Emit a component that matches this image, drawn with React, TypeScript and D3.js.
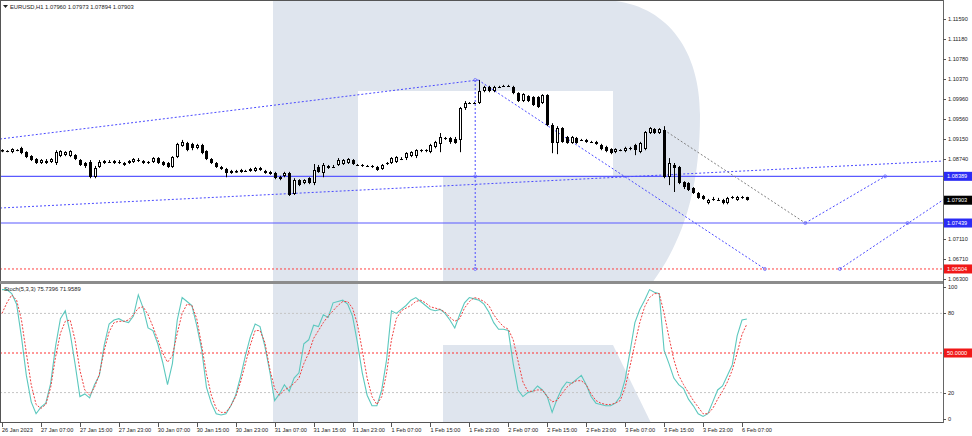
import React from 'react';
import * as d3 from 'd3';

const W = 972;
const H = 436;

// [open, high, low, close] hourly bars from 26 Jan 23:00
const ohlc: [number, number, number, number][] = [
  [1.0890,1.0894,1.0888,1.0892],[1.0890,1.0892,1.0888,1.0890],[1.0888,1.0896,1.0886,1.0894],[1.0892,1.0894,1.0890,1.0892],
  [1.0896,1.0899,1.0884,1.0886],[1.0888,1.0890,1.0876,1.0878],[1.0880,1.0882,1.0870,1.0872],[1.0874,1.0876,1.0864,1.0866],
  [1.0866,1.0874,1.0864,1.0872],[1.0867,1.0874,1.0864,1.0871],[1.0868,1.0876,1.0866,1.0874],[1.0866,1.0892,1.0862,1.0888],
  [1.0880,1.0892,1.0878,1.0890],[1.0882,1.0890,1.0880,1.0888],[1.0880,1.0892,1.0878,1.0890],[1.0882,1.0884,1.0872,1.0874],
  [1.0872,1.0874,1.0860,1.0862],[1.0866,1.0868,1.0856,1.0860],[1.0868,1.0872,1.0835,1.0837],[1.0837,1.0860,1.0835,1.0856],
  [1.0858,1.0872,1.0856,1.0868],[1.0866,1.0872,1.0864,1.0870],[1.0868,1.0872,1.0866,1.0868],[1.0870,1.0872,1.0864,1.0866],
  [1.0869,1.0872,1.0864,1.0866],[1.0862,1.0868,1.0860,1.0866],[1.0866,1.0872,1.0864,1.0870],[1.0868,1.0876,1.0866,1.0874],
  [1.0872,1.0876,1.0868,1.0872],[1.0870,1.0872,1.0864,1.0866],[1.0868,1.0870,1.0864,1.0868],[1.0868,1.0878,1.0866,1.0876],
  [1.0876,1.0878,1.0864,1.0866],[1.0868,1.0870,1.0860,1.0862],[1.0866,1.0868,1.0856,1.0858],[1.0858,1.0880,1.0856,1.0878],
  [1.0878,1.0907,1.0876,1.0905],[1.0901,1.0913,1.0899,1.0909],[1.0907,1.0909,1.0890,1.0892],[1.0905,1.0907,1.0892,1.0896],
  [1.0896,1.0905,1.0894,1.0903],[1.0903,1.0905,1.0884,1.0886],[1.0890,1.0892,1.0872,1.0874],[1.0874,1.0876,1.0864,1.0866],
  [1.0866,1.0868,1.0856,1.0858],[1.0858,1.0860,1.0852,1.0854],[1.0854,1.0856,1.0837,1.0846],[1.0846,1.0852,1.0844,1.0850],
  [1.0848,1.0852,1.0846,1.0849],[1.0848,1.0854,1.0846,1.0852],[1.0850,1.0852,1.0848,1.0850],[1.0854,1.0856,1.0848,1.0850],
  [1.0850,1.0858,1.0848,1.0856],[1.0852,1.0858,1.0850,1.0856],[1.0850,1.0852,1.0844,1.0846],[1.0848,1.0850,1.0842,1.0844],
  [1.0846,1.0848,1.0833,1.0835],[1.0833,1.0840,1.0831,1.0837],[1.0840,1.0848,1.0837,1.0846],[1.0846,1.0848,1.0799,1.0801],
  [1.0803,1.0835,1.0801,1.0831],[1.0831,1.0833,1.0819,1.0821],[1.0825,1.0833,1.0823,1.0831],[1.0835,1.0837,1.0823,1.0825],
  [1.0825,1.0864,1.0821,1.0852],[1.0858,1.0862,1.0846,1.0848],[1.0846,1.0866,1.0837,1.0862],[1.0860,1.0862,1.0854,1.0856],
  [1.0858,1.0862,1.0856,1.0858],[1.0862,1.0876,1.0860,1.0872],[1.0864,1.0874,1.0862,1.0872],[1.0866,1.0876,1.0864,1.0874],
  [1.0872,1.0874,1.0862,1.0864],[1.0862,1.0864,1.0860,1.0862],[1.0862,1.0864,1.0858,1.0860],[1.0860,1.0862,1.0858,1.0860],
  [1.0860,1.0862,1.0856,1.0858],[1.0858,1.0860,1.0850,1.0852],[1.0854,1.0864,1.0852,1.0862],[1.0866,1.0868,1.0862,1.0866],
  [1.0866,1.0878,1.0864,1.0876],[1.0868,1.0880,1.0866,1.0878],[1.0874,1.0878,1.0872,1.0874],[1.0876,1.0888,1.0872,1.0886],
  [1.0880,1.0890,1.0878,1.0888],[1.0880,1.0894,1.0876,1.0892],[1.0892,1.0894,1.0888,1.0892],[1.0892,1.0894,1.0888,1.0892],
  [1.0888,1.0905,1.0886,1.0903],[1.0899,1.0911,1.0896,1.0909],[1.0905,1.0927,1.0888,1.0919],[1.0917,1.0919,1.0913,1.0917],
  [1.0917,1.0919,1.0905,1.0909],[1.0915,1.0919,1.0905,1.0907],[1.0913,1.0980,1.0888,1.0978],[1.0978,1.0992,1.0974,1.0988],
  [1.0988,1.0990,1.0986,1.0988],[1.0988,1.0990,1.0986,1.0988],[1.0988,1.1035,1.0986,1.1012],[1.1012,1.1023,1.1010,1.1021],
  [1.1021,1.1023,1.1010,1.1012],[1.1012,1.1023,1.1010,1.1021],[1.1021,1.1023,1.1019,1.1021],[1.1023,1.1025,1.1021,1.1023],
  [1.1023,1.1025,1.1021,1.1023],[1.1021,1.1023,1.1006,1.1008],[1.1008,1.1010,1.0990,1.0992],[1.0992,1.1008,1.0990,1.1006],
  [1.1002,1.1004,1.0990,1.0992],[1.1000,1.1002,1.0982,1.0984],[1.1000,1.1002,1.0978,1.0980],[1.0988,1.1006,1.0986,1.1004],
  [1.1004,1.1006,1.0941,1.0943],[1.0943,1.0947,1.0886,1.0907],[1.0907,1.0941,1.0884,1.0937],[1.0937,1.0939,1.0907,1.0909],
  [1.0919,1.0921,1.0905,1.0907],[1.0907,1.0921,1.0905,1.0919],[1.0917,1.0919,1.0905,1.0907],[1.0913,1.0915,1.0911,1.0913],
  [1.0913,1.0915,1.0907,1.0909],[1.0909,1.0911,1.0907,1.0909],[1.0909,1.0911,1.0903,1.0905],[1.0903,1.0905,1.0892,1.0894],
  [1.0899,1.0901,1.0888,1.0890],[1.0894,1.0896,1.0884,1.0886],[1.0888,1.0896,1.0886,1.0894],[1.0892,1.0894,1.0890,1.0892],
  [1.0890,1.0899,1.0888,1.0896],[1.0896,1.0899,1.0892,1.0896],[1.0903,1.0905,1.0882,1.0892],[1.0888,1.0909,1.0886,1.0907],
  [1.0894,1.0931,1.0892,1.0929],[1.0927,1.0939,1.0925,1.0937],[1.0935,1.0937,1.0925,1.0927],[1.0927,1.0937,1.0925,1.0935],
  [1.0933,1.0941,1.0835,1.0837],[1.0837,1.0876,1.0821,1.0866],[1.0862,1.0866,1.0807,1.0856],[1.0858,1.0860,1.0823,1.0825],
  [1.0827,1.0829,1.0813,1.0817],[1.0825,1.0827,1.0809,1.0811],[1.0815,1.0817,1.0803,1.0805],[1.0805,1.0807,1.0793,1.0795],
  [1.0799,1.0801,1.0791,1.0793],[1.0785,1.0793,1.0782,1.0791],[1.0793,1.0797,1.0789,1.0793],[1.0791,1.0795,1.0789,1.0791],
  [1.0791,1.0793,1.0782,1.0785],[1.0785,1.0797,1.0782,1.0795],[1.0797,1.0799,1.0793,1.0797],[1.0791,1.0799,1.0789,1.0797],
  [1.0797,1.0799,1.0793,1.0797],[1.07960,1.07973,1.07894,1.07903],
];

const stochK = [
  98,98,95,87,62,33,13,4,9,12,27,55,76,82,65,42,17,19,16,26,
  33,56,72,75,76,74,73,78,94,84,69,67,57,43,26,42,75,92,89,86,
  71,53,24,12,4,3,4,10,18,32,48,62,72,70,55,36,14,19,26,21,
  31,35,57,60,71,70,79,77,88,89,90,87,78,58,35,18,10,10,22,45,
  82,80,83,86,90,92,89,86,83,82,83,80,75,69,79,88,92,91,90,87,
  81,73,68,68,67,42,22,17,20,21,25,22,17,5,15,23,28,27,30,33,
  26,17,12,11,10,10,12,17,30,51,73,83,90,98,96,95,52,42,31,26,
  23,15,10,4,2,4,13,22,25,33,41,63,75,75.74,
];

const stochD = [
  80,88,94,90,75,50,26,11,8,11,24,47,65,74,75,60,37,22,18,24,
  34,52,66,73,74,74,75,79,84,85,79,70,60,50,43,48,65,80,87,86,
  76,56,34,18,8,5,5,10,17,28,42,56,67,67,58,38,23,18,22,24,
  27,31,42,50,61,67,73,78,82,86,89,89,84,72,52,31,17,11,17,35,
  60,76,82,84,86,89,90,88,85,84,83,81,77,74,76,84,89,92,91,89,
  86,79,74,70,68,60,44,28,21,21,22,22,17,13,14,19,24,27,29,29,
  26,19,14,12,11,11,12,14,24,40,57,73,85,92,95,95,80,62,45,33,
  26,20,14,9,4,4,8,15,21,28,37,50,64,71.96,
];

const priceTicks = [1.1159, 1.1118, 1.1078, 1.1037, 1.0996, 1.0956, 1.0915, 1.0874, 1.0833, 1.0792, 1.0752, 1.0711, 1.0671, 1.0630];
const stochTicks = [100, 80, 50, 20, 0];
const timeTickBars = [0, 8, 16, 24, 32, 40, 48, 56, 64, 72, 80, 88, 96, 104, 112, 120, 128, 136, 144, 152];
const timeTickLabels = ['26 Jan 2023', '27 Jan 07:00', '27 Jan 15:00', '27 Jan 23:00', '30 Jan 07:00', '30 Jan 15:00', '30 Jan 23:00', '31 Jan 07:00', '31 Jan 15:00', '31 Jan 23:00', '1 Feb 07:00', '1 Feb 15:00', '1 Feb 23:00', '2 Feb 07:00', '2 Feb 15:00', '2 Feb 23:00', '3 Feb 07:00', '3 Feb 15:00', '3 Feb 23:00', '6 Feb 07:00'];

const blueLevels = [1.08389, 1.07439];
const redLevel = 1.06504;
const lastPrice = 1.07903;

// trend lines: [barIndex, price] pairs
const blueTrends: [number, number][][] = [
  [[-0.4, 1.09148], [97.8, 1.10349]],
  [[97.8, 1.10349], [156.7, 1.06504]],
  [[-0.4, 1.07744], [193.3, 1.08700]],
  [[97.2, 1.10349], [97.2, 1.06504]],
  [[165.0, 1.07439], [181.4, 1.08389]],
  [[172.1, 1.06504], [193.3, 1.07910]],
];
const grayTrends: [number, number][][] = [
  [[136, 1.09331], [165.0, 1.07439]],
];
const markers: [number, number][] = [[97.2, 1.10349], [97.2, 1.08389], [97.2, 1.06504], [156.7, 1.06504], [165.0, 1.07439], [181.4, 1.08389], [172.1, 1.06504], [186.0, 1.07439]];

const FONT = "'Liberation Sans', Arial, sans-serif";
const WM = '#dfe5ee';

export default function App() {
  const x = d3.scaleLinear().domain([0, 152]).range([2, 742]);
  const y = d3.scaleLinear().domain([1.063, 1.1159]).range([279, 19]);
  const ys = d3.scaleLinear().domain([0, 100]).range([419, 287]);
  const AX = 943;

  const kPath = d3.line<number>().x((_, i) => x(i)).y((d) => ys(d))(stochK) || '';
  const dPath = d3.line<number>().x((_, i) => x(i)).y((d) => ys(d))(stochD) || '';
  const seg = d3.line<[number, number]>().x((d) => x(d[0])).y((d) => y(d[1]));

  const boxed = [...blueLevels, lastPrice, redLevel];
  const visibleTicks = priceTicks.filter((p) => boxed.every((b) => Math.abs(y(p) - y(b)) > 7));

  const label = (yy: number, txt: string, bg: string) => (
    <g key={txt}>
      <rect x={AX + 1} y={yy - 4.5} width={28} height={9} fill={bg} />
      <text x={AX + 4} y={yy + 2} fontSize={5.6} fill="#fff">{txt}</text>
    </g>
  );

  return (
    <svg width={W} height={H} style={{ position: 'fixed', left: 0, top: 0, background: '#fff' }} fontFamily={FONT}>
      <defs>
        <clipPath id="mainClip"><rect x={1} y={1} width={AX - 1} height={280} /></clipPath>
        <clipPath id="stochClip"><rect x={1} y={284} width={AX - 1} height={139} /></clipPath>
      </defs>
      <rect width={W} height={H} fill="#fff" />

      {/* main panel */}
      <g clipPath="url(#mainClip)">
        <rect x={273} y={0} width={85} height={290} fill={WM} />
        <path d="M358,0 H600 C662,0 700,45 700,115 C700,195 680,245 652,283 L443,283 L443,177 L613,177 L613,91 L358,91 Z" fill={WM} />
        {blueLevels.map((v) => (
          <line key={v} x1={0} x2={AX} y1={y(v)} y2={y(v)} stroke="#5a5aff" strokeWidth={1.2} />
        ))}
        <line x1={0} x2={AX} y1={y(redLevel)} y2={y(redLevel)} stroke="#ff4040" strokeWidth={1} strokeDasharray="2 2" />
        {blueTrends.map((t, i) => (
          <path key={i} d={seg(t) || ''} stroke="#4b4bff" strokeWidth={1} strokeDasharray="2 2" fill="none" />
        ))}
        {grayTrends.map((t, i) => (
          <path key={i} d={seg(t) || ''} stroke="#808080" strokeWidth={1} strokeDasharray="2 2" fill="none" />
        ))}
        {markers.map((m, i) => (
          <circle key={i} cx={x(m[0])} cy={y(m[1])} r={1.5} fill="none" stroke="#6a6aff" strokeWidth={0.8} />
        ))}
        {ohlc.map((c, i) => {
          const [o, h, l, cl] = c;
          const cx = Math.round(x(i)) + 0.5;
          const top = Math.round(y(Math.max(o, cl)));
          const bot = Math.round(y(Math.min(o, cl)));
          const bull = cl > o;
          return (
            <g key={i}>
              <line x1={cx} x2={cx} y1={y(h)} y2={y(l)} stroke="#000" strokeWidth={1} />
              {bull ? (
                <rect x={cx - 1} y={top + 0.5} width={2} height={Math.max(bot - top - 1, 0.5)} fill="#fff" stroke="#000" strokeWidth={1} />
              ) : (
                <rect x={cx - 1.5} y={top} width={3} height={Math.max(bot - top, 1)} fill="#000" />
              )}
            </g>
          );
        })}
      </g>

      {/* stochastic panel */}
      <g clipPath="url(#stochClip)">
        <rect x={273} y={280} width={85} height={150} fill={WM} />
        <path d="M443,345 L613,345 L652,425 L443,425 Z" fill={WM} />
        {[80, 20].map((v) => (
          <line key={v} x1={0} x2={AX} y1={ys(v)} y2={ys(v)} stroke="#c4c4c4" strokeWidth={1} strokeDasharray="2 2" />
        ))}
        <line x1={0} x2={AX} y1={ys(50)} y2={ys(50)} stroke="#ff3030" strokeWidth={1} strokeDasharray="2 2" />
        <path d={kPath} stroke="#5cc8be" strokeWidth={1.1} fill="none" />
        <path d={dPath} stroke="#f04040" strokeWidth={1} strokeDasharray="2 1.5" fill="none" />
      </g>

      {/* frames */}
      <line x1={0.5} x2={0.5} y1={0} y2={423} stroke="#555" />
      <line x1={0} x2={AX} y1={0.5} y2={0.5} stroke="#555" />
      <rect x={0} y={281} width={AX + 1} height={3} fill="#8c8c8c" />
      <line x1={0} x2={AX} y1={422.5} y2={422.5} stroke="#555" />
      <line x1={AX + 0.5} x2={AX + 0.5} y1={0} y2={423} stroke="#666" />

      {/* price axis */}
      {priceTicks.map((p) => (
        <line key={'t' + p} x1={AX} x2={AX + 3} y1={Math.round(y(p)) + 0.5} y2={Math.round(y(p)) + 0.5} stroke="#555" />
      ))}
      {visibleTicks.map((p) => (
        <text key={p} x={AX + 5} y={y(p) + 2} fontSize={5.6} fill="#222">{p.toFixed(5)}</text>
      ))}
      {label(y(blueLevels[0]), blueLevels[0].toFixed(5), '#2b2bf5')}
      {label(y(lastPrice), lastPrice.toFixed(5), '#000')}
      {label(y(blueLevels[1]), blueLevels[1].toFixed(5), '#2b2bf5')}
      {label(y(redLevel), redLevel.toFixed(5), '#f01818')}

      {/* stoch axis */}
      {stochTicks.map((v) => (
        <g key={v}>
          <line x1={AX} x2={AX + 3} y1={Math.round(ys(v)) + 0.5} y2={Math.round(ys(v)) + 0.5} stroke="#555" />
          {v !== 50 && <text x={AX + 5} y={ys(v) + 2} fontSize={5.6} fill="#222">{v}</text>}
        </g>
      ))}
      {label(ys(50), '50.0000', '#f01818')}

      {/* time axis */}
      {timeTickBars.map((b, i) => (
        <g key={b}>
          <line x1={Math.round(x(b)) + 0.5} x2={Math.round(x(b)) + 0.5} y1={423} y2={427} stroke="#555" />
          <text x={x(b)} y={432} fontSize={5.6} fill="#222">{timeTickLabels[i]}</text>
        </g>
      ))}

      {/* headers */}
      <path d="M3,5 L8,5 L5.5,8 Z" fill="#222" />
      <text x={10} y={8.5} fontSize={5.8} fill="#222">EURUSD,H1  1.07960 1.07973 1.07894 1.07903</text>
      <text x={4} y={291} fontSize={5.8} fill="#222">Stoch(5,3,3) 75.7396 71.9589</text>
    </svg>
  );
}
